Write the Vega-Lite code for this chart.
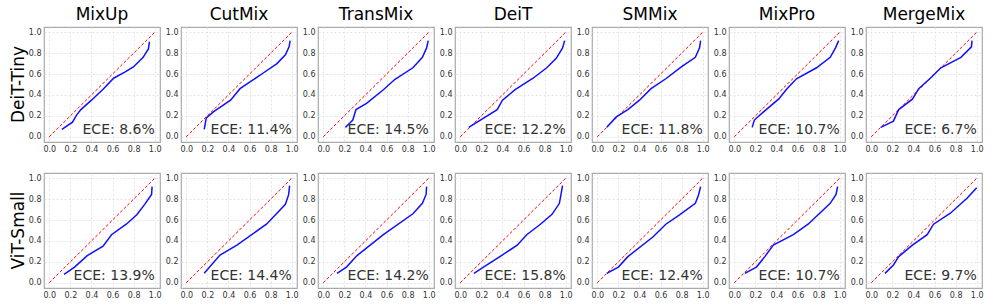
{
  "$schema": "https://vega.github.io/schema/vega-lite/v6.json",
  "background": "white",
  "padding": {"left": 9, "top": 6, "right": 5, "bottom": 5},
  "datasets": {
    "rows": [
      {"model": "DeiT-Tiny", "method": "MixUp", "kind": "diag", "x": 0, "y": 0},
      {"model": "DeiT-Tiny", "method": "MixUp", "kind": "diag", "x": 1, "y": 1},
      {"model": "DeiT-Tiny", "method": "CutMix", "kind": "diag", "x": 0, "y": 0},
      {"model": "DeiT-Tiny", "method": "CutMix", "kind": "diag", "x": 1, "y": 1},
      {"model": "DeiT-Tiny", "method": "TransMix", "kind": "diag", "x": 0, "y": 0},
      {"model": "DeiT-Tiny", "method": "TransMix", "kind": "diag", "x": 1, "y": 1},
      {"model": "DeiT-Tiny", "method": "DeiT", "kind": "diag", "x": 0, "y": 0},
      {"model": "DeiT-Tiny", "method": "DeiT", "kind": "diag", "x": 1, "y": 1},
      {"model": "DeiT-Tiny", "method": "SMMix", "kind": "diag", "x": 0, "y": 0},
      {"model": "DeiT-Tiny", "method": "SMMix", "kind": "diag", "x": 1, "y": 1},
      {"model": "DeiT-Tiny", "method": "MixPro", "kind": "diag", "x": 0, "y": 0},
      {"model": "DeiT-Tiny", "method": "MixPro", "kind": "diag", "x": 1, "y": 1},
      {"model": "DeiT-Tiny", "method": "MergeMix", "kind": "diag", "x": 0, "y": 0},
      {"model": "DeiT-Tiny", "method": "MergeMix", "kind": "diag", "x": 1, "y": 1},
      {"model": "ViT-Small", "method": "MixUp", "kind": "diag", "x": 0, "y": 0},
      {"model": "ViT-Small", "method": "MixUp", "kind": "diag", "x": 1, "y": 1},
      {"model": "ViT-Small", "method": "CutMix", "kind": "diag", "x": 0, "y": 0},
      {"model": "ViT-Small", "method": "CutMix", "kind": "diag", "x": 1, "y": 1},
      {"model": "ViT-Small", "method": "TransMix", "kind": "diag", "x": 0, "y": 0},
      {"model": "ViT-Small", "method": "TransMix", "kind": "diag", "x": 1, "y": 1},
      {"model": "ViT-Small", "method": "DeiT", "kind": "diag", "x": 0, "y": 0},
      {"model": "ViT-Small", "method": "DeiT", "kind": "diag", "x": 1, "y": 1},
      {"model": "ViT-Small", "method": "SMMix", "kind": "diag", "x": 0, "y": 0},
      {"model": "ViT-Small", "method": "SMMix", "kind": "diag", "x": 1, "y": 1},
      {"model": "ViT-Small", "method": "MixPro", "kind": "diag", "x": 0, "y": 0},
      {"model": "ViT-Small", "method": "MixPro", "kind": "diag", "x": 1, "y": 1},
      {"model": "ViT-Small", "method": "MergeMix", "kind": "diag", "x": 0, "y": 0},
      {"model": "ViT-Small", "method": "MergeMix", "kind": "diag", "x": 1, "y": 1},

      {"model": "DeiT-Tiny", "method": "MixUp", "kind": "curve", "x": 0.12, "y": 0.07, "ece": "ECE: 8.6%"},
      {"model": "DeiT-Tiny", "method": "MixUp", "kind": "curve", "x": 0.22, "y": 0.14},
      {"model": "DeiT-Tiny", "method": "MixUp", "kind": "curve", "x": 0.26, "y": 0.21},
      {"model": "DeiT-Tiny", "method": "MixUp", "kind": "curve", "x": 0.30, "y": 0.26},
      {"model": "DeiT-Tiny", "method": "MixUp", "kind": "curve", "x": 0.40, "y": 0.35},
      {"model": "DeiT-Tiny", "method": "MixUp", "kind": "curve", "x": 0.51, "y": 0.455},
      {"model": "DeiT-Tiny", "method": "MixUp", "kind": "curve", "x": 0.61, "y": 0.56},
      {"model": "DeiT-Tiny", "method": "MixUp", "kind": "curve", "x": 0.72, "y": 0.62},
      {"model": "DeiT-Tiny", "method": "MixUp", "kind": "curve", "x": 0.80, "y": 0.67},
      {"model": "DeiT-Tiny", "method": "MixUp", "kind": "curve", "x": 0.89, "y": 0.76},
      {"model": "DeiT-Tiny", "method": "MixUp", "kind": "curve", "x": 0.94, "y": 0.84},
      {"model": "DeiT-Tiny", "method": "MixUp", "kind": "curve", "x": 0.95, "y": 0.91},

      {"model": "DeiT-Tiny", "method": "CutMix", "kind": "curve", "x": 0.17, "y": 0.07, "ece": "ECE: 11.4%"},
      {"model": "DeiT-Tiny", "method": "CutMix", "kind": "curve", "x": 0.19, "y": 0.18},
      {"model": "DeiT-Tiny", "method": "CutMix", "kind": "curve", "x": 0.26, "y": 0.24},
      {"model": "DeiT-Tiny", "method": "CutMix", "kind": "curve", "x": 0.42, "y": 0.35},
      {"model": "DeiT-Tiny", "method": "CutMix", "kind": "curve", "x": 0.51, "y": 0.46},
      {"model": "DeiT-Tiny", "method": "CutMix", "kind": "curve", "x": 0.73, "y": 0.61},
      {"model": "DeiT-Tiny", "method": "CutMix", "kind": "curve", "x": 0.86, "y": 0.70},
      {"model": "DeiT-Tiny", "method": "CutMix", "kind": "curve", "x": 0.94, "y": 0.785},
      {"model": "DeiT-Tiny", "method": "CutMix", "kind": "curve", "x": 0.975, "y": 0.86},
      {"model": "DeiT-Tiny", "method": "CutMix", "kind": "curve", "x": 0.985, "y": 0.92},

      {"model": "DeiT-Tiny", "method": "TransMix", "kind": "curve", "x": 0.21, "y": 0.09, "ece": "ECE: 14.5%"},
      {"model": "DeiT-Tiny", "method": "TransMix", "kind": "curve", "x": 0.25, "y": 0.13},
      {"model": "DeiT-Tiny", "method": "TransMix", "kind": "curve", "x": 0.28, "y": 0.16},
      {"model": "DeiT-Tiny", "method": "TransMix", "kind": "curve", "x": 0.31, "y": 0.26},
      {"model": "DeiT-Tiny", "method": "TransMix", "kind": "curve", "x": 0.41, "y": 0.32},
      {"model": "DeiT-Tiny", "method": "TransMix", "kind": "curve", "x": 0.57, "y": 0.45},
      {"model": "DeiT-Tiny", "method": "TransMix", "kind": "curve", "x": 0.68, "y": 0.55},
      {"model": "DeiT-Tiny", "method": "TransMix", "kind": "curve", "x": 0.85, "y": 0.66},
      {"model": "DeiT-Tiny", "method": "TransMix", "kind": "curve", "x": 0.94, "y": 0.76},
      {"model": "DeiT-Tiny", "method": "TransMix", "kind": "curve", "x": 0.98, "y": 0.85},
      {"model": "DeiT-Tiny", "method": "TransMix", "kind": "curve", "x": 0.995, "y": 0.92},

      {"model": "DeiT-Tiny", "method": "DeiT", "kind": "curve", "x": 0.08, "y": 0.09, "ece": "ECE: 12.2%"},
      {"model": "DeiT-Tiny", "method": "DeiT", "kind": "curve", "x": 0.35, "y": 0.26},
      {"model": "DeiT-Tiny", "method": "DeiT", "kind": "curve", "x": 0.40, "y": 0.35},
      {"model": "DeiT-Tiny", "method": "DeiT", "kind": "curve", "x": 0.52, "y": 0.45},
      {"model": "DeiT-Tiny", "method": "DeiT", "kind": "curve", "x": 0.69, "y": 0.56},
      {"model": "DeiT-Tiny", "method": "DeiT", "kind": "curve", "x": 0.82, "y": 0.66},
      {"model": "DeiT-Tiny", "method": "DeiT", "kind": "curve", "x": 0.91, "y": 0.75},
      {"model": "DeiT-Tiny", "method": "DeiT", "kind": "curve", "x": 0.97, "y": 0.85},
      {"model": "DeiT-Tiny", "method": "DeiT", "kind": "curve", "x": 0.99, "y": 0.92},

      {"model": "DeiT-Tiny", "method": "SMMix", "kind": "curve", "x": 0.09, "y": 0.09, "ece": "ECE: 11.8%"},
      {"model": "DeiT-Tiny", "method": "SMMix", "kind": "curve", "x": 0.18, "y": 0.19},
      {"model": "DeiT-Tiny", "method": "SMMix", "kind": "curve", "x": 0.29, "y": 0.26},
      {"model": "DeiT-Tiny", "method": "SMMix", "kind": "curve", "x": 0.40, "y": 0.35},
      {"model": "DeiT-Tiny", "method": "SMMix", "kind": "curve", "x": 0.51, "y": 0.46},
      {"model": "DeiT-Tiny", "method": "SMMix", "kind": "curve", "x": 0.65, "y": 0.555},
      {"model": "DeiT-Tiny", "method": "SMMix", "kind": "curve", "x": 0.80, "y": 0.67},
      {"model": "DeiT-Tiny", "method": "SMMix", "kind": "curve", "x": 0.93, "y": 0.76},
      {"model": "DeiT-Tiny", "method": "SMMix", "kind": "curve", "x": 0.97, "y": 0.85},
      {"model": "DeiT-Tiny", "method": "SMMix", "kind": "curve", "x": 0.98, "y": 0.92},

      {"model": "DeiT-Tiny", "method": "MixPro", "kind": "curve", "x": 0.17, "y": 0.09, "ece": "ECE: 10.7%"},
      {"model": "DeiT-Tiny", "method": "MixPro", "kind": "curve", "x": 0.19, "y": 0.16},
      {"model": "DeiT-Tiny", "method": "MixPro", "kind": "curve", "x": 0.28, "y": 0.24},
      {"model": "DeiT-Tiny", "method": "MixPro", "kind": "curve", "x": 0.42, "y": 0.36},
      {"model": "DeiT-Tiny", "method": "MixPro", "kind": "curve", "x": 0.50, "y": 0.46},
      {"model": "DeiT-Tiny", "method": "MixPro", "kind": "curve", "x": 0.59, "y": 0.555},
      {"model": "DeiT-Tiny", "method": "MixPro", "kind": "curve", "x": 0.78, "y": 0.66},
      {"model": "DeiT-Tiny", "method": "MixPro", "kind": "curve", "x": 0.91, "y": 0.76},
      {"model": "DeiT-Tiny", "method": "MixPro", "kind": "curve", "x": 0.96, "y": 0.85},
      {"model": "DeiT-Tiny", "method": "MixPro", "kind": "curve", "x": 0.99, "y": 0.92},

      {"model": "DeiT-Tiny", "method": "MergeMix", "kind": "curve", "x": 0.09, "y": 0.09, "ece": "ECE: 6.7%"},
      {"model": "DeiT-Tiny", "method": "MergeMix", "kind": "curve", "x": 0.21, "y": 0.15},
      {"model": "DeiT-Tiny", "method": "MergeMix", "kind": "curve", "x": 0.26, "y": 0.26},
      {"model": "DeiT-Tiny", "method": "MergeMix", "kind": "curve", "x": 0.39, "y": 0.36},
      {"model": "DeiT-Tiny", "method": "MergeMix", "kind": "curve", "x": 0.45, "y": 0.46},
      {"model": "DeiT-Tiny", "method": "MergeMix", "kind": "curve", "x": 0.56, "y": 0.56},
      {"model": "DeiT-Tiny", "method": "MergeMix", "kind": "curve", "x": 0.66, "y": 0.66},
      {"model": "DeiT-Tiny", "method": "MergeMix", "kind": "curve", "x": 0.85, "y": 0.76},
      {"model": "DeiT-Tiny", "method": "MergeMix", "kind": "curve", "x": 0.95, "y": 0.86},
      {"model": "DeiT-Tiny", "method": "MergeMix", "kind": "curve", "x": 0.955, "y": 0.92},

      {"model": "ViT-Small", "method": "MixUp", "kind": "curve", "x": 0.14, "y": 0.08, "ece": "ECE: 13.9%"},
      {"model": "ViT-Small", "method": "MixUp", "kind": "curve", "x": 0.24, "y": 0.15},
      {"model": "ViT-Small", "method": "MixUp", "kind": "curve", "x": 0.36, "y": 0.26},
      {"model": "ViT-Small", "method": "MixUp", "kind": "curve", "x": 0.51, "y": 0.35},
      {"model": "ViT-Small", "method": "MixUp", "kind": "curve", "x": 0.59, "y": 0.46},
      {"model": "ViT-Small", "method": "MixUp", "kind": "curve", "x": 0.73, "y": 0.56},
      {"model": "ViT-Small", "method": "MixUp", "kind": "curve", "x": 0.83, "y": 0.65},
      {"model": "ViT-Small", "method": "MixUp", "kind": "curve", "x": 0.905, "y": 0.75},
      {"model": "ViT-Small", "method": "MixUp", "kind": "curve", "x": 0.97, "y": 0.845},
      {"model": "ViT-Small", "method": "MixUp", "kind": "curve", "x": 0.975, "y": 0.92},

      {"model": "ViT-Small", "method": "CutMix", "kind": "curve", "x": 0.17, "y": 0.09, "ece": "ECE: 14.4%"},
      {"model": "ViT-Small", "method": "CutMix", "kind": "curve", "x": 0.32, "y": 0.265},
      {"model": "ViT-Small", "method": "CutMix", "kind": "curve", "x": 0.48, "y": 0.36},
      {"model": "ViT-Small", "method": "CutMix", "kind": "curve", "x": 0.76, "y": 0.56},
      {"model": "ViT-Small", "method": "CutMix", "kind": "curve", "x": 0.86, "y": 0.665},
      {"model": "ViT-Small", "method": "CutMix", "kind": "curve", "x": 0.94, "y": 0.75},
      {"model": "ViT-Small", "method": "CutMix", "kind": "curve", "x": 0.97, "y": 0.84},
      {"model": "ViT-Small", "method": "CutMix", "kind": "curve", "x": 0.98, "y": 0.93},

      {"model": "ViT-Small", "method": "TransMix", "kind": "curve", "x": 0.13, "y": 0.09, "ece": "ECE: 14.2%"},
      {"model": "ViT-Small", "method": "TransMix", "kind": "curve", "x": 0.22, "y": 0.15},
      {"model": "ViT-Small", "method": "TransMix", "kind": "curve", "x": 0.32, "y": 0.26},
      {"model": "ViT-Small", "method": "TransMix", "kind": "curve", "x": 0.57, "y": 0.46},
      {"model": "ViT-Small", "method": "TransMix", "kind": "curve", "x": 0.85, "y": 0.66},
      {"model": "ViT-Small", "method": "TransMix", "kind": "curve", "x": 0.94, "y": 0.76},
      {"model": "ViT-Small", "method": "TransMix", "kind": "curve", "x": 0.975, "y": 0.845},
      {"model": "ViT-Small", "method": "TransMix", "kind": "curve", "x": 0.98, "y": 0.92},

      {"model": "ViT-Small", "method": "DeiT", "kind": "curve", "x": 0.13, "y": 0.09, "ece": "ECE: 15.8%"},
      {"model": "ViT-Small", "method": "DeiT", "kind": "curve", "x": 0.22, "y": 0.15},
      {"model": "ViT-Small", "method": "DeiT", "kind": "curve", "x": 0.39, "y": 0.26},
      {"model": "ViT-Small", "method": "DeiT", "kind": "curve", "x": 0.54, "y": 0.36},
      {"model": "ViT-Small", "method": "DeiT", "kind": "curve", "x": 0.63, "y": 0.46},
      {"model": "ViT-Small", "method": "DeiT", "kind": "curve", "x": 0.76, "y": 0.56},
      {"model": "ViT-Small", "method": "DeiT", "kind": "curve", "x": 0.87, "y": 0.655},
      {"model": "ViT-Small", "method": "DeiT", "kind": "curve", "x": 0.94, "y": 0.76},
      {"model": "ViT-Small", "method": "DeiT", "kind": "curve", "x": 0.97, "y": 0.93},

      {"model": "ViT-Small", "method": "SMMix", "kind": "curve", "x": 0.09, "y": 0.09, "ece": "ECE: 12.4%"},
      {"model": "ViT-Small", "method": "SMMix", "kind": "curve", "x": 0.20, "y": 0.15},
      {"model": "ViT-Small", "method": "SMMix", "kind": "curve", "x": 0.29, "y": 0.25},
      {"model": "ViT-Small", "method": "SMMix", "kind": "curve", "x": 0.53, "y": 0.44},
      {"model": "ViT-Small", "method": "SMMix", "kind": "curve", "x": 0.65, "y": 0.56},
      {"model": "ViT-Small", "method": "SMMix", "kind": "curve", "x": 0.78, "y": 0.65},
      {"model": "ViT-Small", "method": "SMMix", "kind": "curve", "x": 0.93, "y": 0.76},
      {"model": "ViT-Small", "method": "SMMix", "kind": "curve", "x": 0.96, "y": 0.84},
      {"model": "ViT-Small", "method": "SMMix", "kind": "curve", "x": 0.98, "y": 0.92},

      {"model": "ViT-Small", "method": "MixPro", "kind": "curve", "x": 0.10, "y": 0.09, "ece": "ECE: 10.7%"},
      {"model": "ViT-Small", "method": "MixPro", "kind": "curve", "x": 0.21, "y": 0.15},
      {"model": "ViT-Small", "method": "MixPro", "kind": "curve", "x": 0.29, "y": 0.25},
      {"model": "ViT-Small", "method": "MixPro", "kind": "curve", "x": 0.37, "y": 0.36},
      {"model": "ViT-Small", "method": "MixPro", "kind": "curve", "x": 0.56, "y": 0.46},
      {"model": "ViT-Small", "method": "MixPro", "kind": "curve", "x": 0.70, "y": 0.56},
      {"model": "ViT-Small", "method": "MixPro", "kind": "curve", "x": 0.91, "y": 0.76},
      {"model": "ViT-Small", "method": "MixPro", "kind": "curve", "x": 0.965, "y": 0.845},
      {"model": "ViT-Small", "method": "MixPro", "kind": "curve", "x": 0.98, "y": 0.92},

      {"model": "ViT-Small", "method": "MergeMix", "kind": "curve", "x": 0.13, "y": 0.09, "ece": "ECE: 9.7%"},
      {"model": "ViT-Small", "method": "MergeMix", "kind": "curve", "x": 0.21, "y": 0.17},
      {"model": "ViT-Small", "method": "MergeMix", "kind": "curve", "x": 0.26, "y": 0.25},
      {"model": "ViT-Small", "method": "MergeMix", "kind": "curve", "x": 0.39, "y": 0.36},
      {"model": "ViT-Small", "method": "MergeMix", "kind": "curve", "x": 0.53, "y": 0.46},
      {"model": "ViT-Small", "method": "MergeMix", "kind": "curve", "x": 0.59, "y": 0.56},
      {"model": "ViT-Small", "method": "MergeMix", "kind": "curve", "x": 0.75, "y": 0.665},
      {"model": "ViT-Small", "method": "MergeMix", "kind": "curve", "x": 0.91, "y": 0.81},
      {"model": "ViT-Small", "method": "MergeMix", "kind": "curve", "x": 1.0, "y": 0.91}
    ]
  },
  "data": {"name": "rows"},
  "facet": {
    "row": {
      "field": "model", "type": "nominal", "sort": ["DeiT-Tiny", "ViT-Small"],
      "header": {"title": null, "labelAngle": -90, "labelOrient": "left", "labelFontSize": 17, "labelFont": "DejaVu Sans", "labelColor": "black", "labelPadding": 8}
    },
    "column": {
      "field": "method", "type": "nominal", "sort": ["MixUp", "CutMix", "TransMix", "DeiT", "SMMix", "MixPro", "MergeMix"],
      "header": {"title": null, "labelFontSize": 17, "labelFont": "DejaVu Sans", "labelColor": "black", "labelPadding": 3}
    }
  },
  "bounds": "flush",
  "spacing": {"row": 31, "column": 21},
  "resolve": {"axis": {"x": "independent", "y": "independent"}},
  "spec": {
    "width": 116,
    "height": 115,
    "layer": [
      {
        "transform": [{"filter": "datum.kind === 'diag'"}],
        "mark": {"type": "line", "color": "#ff0000", "strokeDash": [3, 2], "strokeWidth": 1},
        "encoding": {
          "x": {"field": "x", "type": "quantitative", "scale": {"domain": [-0.05, 1.05], "nice": false, "zero": false},
                "axis": {"title": null, "values": [0, 0.2, 0.4, 0.6, 0.8, 1.0], "format": ".1f", "labelOverlap": false}},
          "y": {"field": "y", "type": "quantitative", "scale": {"domain": [-0.05, 1.05], "nice": false, "zero": false},
                "axis": {"title": null, "values": [0, 0.2, 0.4, 0.6, 0.8, 1.0], "format": ".1f", "labelOverlap": false}}
        }
      },
      {
        "transform": [{"filter": "datum.kind === 'curve'"}],
        "mark": {"type": "line", "color": "#1010ff", "strokeWidth": 1.5},
        "encoding": {
          "x": {"field": "x", "type": "quantitative", "axis": {"title": null, "values": [0, 0.2, 0.4, 0.6, 0.8, 1.0], "format": ".1f", "labelOverlap": false}},
          "y": {"field": "y", "type": "quantitative", "axis": {"title": null, "values": [0, 0.2, 0.4, 0.6, 0.8, 1.0], "format": ".1f", "labelOverlap": false}}
        }
      },
      {
        "transform": [{"filter": "isValid(datum.ece)"}],
        "mark": {"type": "text", "align": "right", "baseline": "alphabetic", "fontSize": 14, "font": "DejaVu Sans", "color": "#333333"},
        "encoding": {
          "x": {"datum": 1.0, "type": "quantitative", "axis": {"title": null, "values": [0, 0.2, 0.4, 0.6, 0.8, 1.0], "format": ".1f", "labelOverlap": false}},
          "y": {"datum": 0.03, "type": "quantitative", "axis": {"title": null, "values": [0, 0.2, 0.4, 0.6, 0.8, 1.0], "format": ".1f", "labelOverlap": false}},
          "text": {"field": "ece"}
        }
      }
    ]
  },
  "config": {
    "view": {"stroke": "#aaaaaa", "strokeWidth": 1.2},
    "axis": {
      "domain": false, "ticks": false, "grid": true, "gridColor": "#dddddd", "gridDash": [2, 2], "gridWidth": 0.8,
      "labelFont": "DejaVu Sans", "labelFontSize": 8, "labelColor": "#333333", "labelPadding": 3, "labelFlush": false,
      "labelOverlap": false, "minExtent": 0
    },
    "axisY": {"minExtent": 16, "maxExtent": 16},
    "axisX": {"minExtent": 11, "maxExtent": 11}
  }
}
